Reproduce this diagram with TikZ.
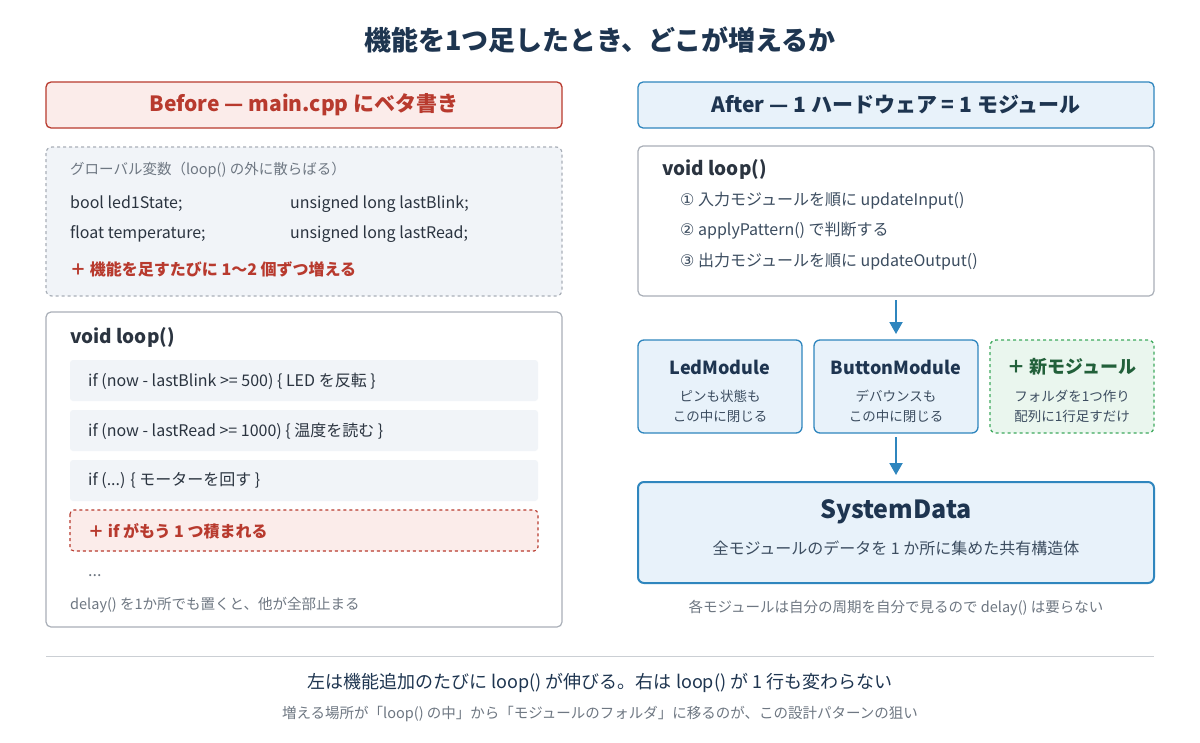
\documentclass[tikz,border=0pt]{standalone}
\usepackage{fontspec}
\usetikzlibrary{arrows.meta}
\setmainfont{Noto Sans CJK JP}
\newfontfamily\sym{DejaVu Sans}
\begin{document}
\begin{tikzpicture}[x=1pt,y=-1pt,
 every node/.style={inner sep=0pt,font=\fontsize{16}{18}\selectfont,text=txt},
 box/.style={draw=bord,line width=1.2pt,rounded corners=5pt,fill=white},
 code/.style={fill=codebg,rounded corners=3pt},
 mod/.style={draw=blueb,line width=1.3pt,rounded corners=6pt,fill=bluebg},
 sm/.style={font=\fontsize{13.5}{16}\selectfont,text=subt},
 arr/.style={draw=blueb,line width=2pt,-{Triangle[length=12pt,width=13pt]}}]
\definecolor{txt}{HTML}{2B3440}
\definecolor{navy}{HTML}{1E3550}
\definecolor{bord}{HTML}{A9AFB8}
\definecolor{codebg}{HTML}{F1F4F8}
\definecolor{redt}{HTML}{B83A2E}
\definecolor{redbg}{HTML}{FBECEA}
\definecolor{blueb}{HTML}{2F86BE}
\definecolor{bluebg}{HTML}{E8F2FA}
\definecolor{subt}{HTML}{3C4D60}
\definecolor{gray1}{HTML}{6E7782}
\definecolor{greenb}{HTML}{3FAA5E}
\definecolor{greenbg}{HTML}{EAF6EE}
\definecolor{greent}{HTML}{22603A}
\fill[white] (0,0) rectangle (1200,742);
\node[font=\fontsize{27}{30}\selectfont\bfseries,text=navy] (title) at (600,40) {機能を1つ足したとき、どこが増えるか};
% left
\draw[draw=redt,fill=redbg,line width=1.3pt,rounded corners=5pt] (46,82) rectangle (562,128);
\node[font=\fontsize{21}{24}\selectfont\bfseries,text=redt] (lh) at (304,105) {Before — main.cpp にベタ書き};
\draw[draw=bord,fill=codebg,line width=1.2pt,dashed,rounded corners=6pt] (46,147) rectangle (562,296);
\node[anchor=west,sm,text=gray1,font=\fontsize{14.5}{16}\selectfont] (g0) at (70,170) {グローバル変数（loop() の外に散らばる）};
\node[anchor=west] (g1) at (70,204) {bool led1State;};
\node[anchor=west] (g2) at (290,204) {unsigned long lastBlink;};
\node[anchor=west] (g3) at (70,234) {float temperature;};
\node[anchor=west] (g4) at (290,234) {unsigned long lastRead;};
\node[anchor=west,text=redt,font=\fontsize{16}{18}\selectfont\bfseries] (g5) at (70,269) {＋ 機能を足すたびに 1〜2 個ずつ増える};
\draw[box] (46,312) rectangle (562,627);
\node[anchor=west,font=\fontsize{19}{22}\selectfont\bfseries] (ll) at (70,337) {void loop()};
\fill[code] (70,360) rectangle (538,401);
\fill[code] (70,410) rectangle (538,451);
\fill[code] (70,460) rectangle (538,501);
\draw[draw=redt,fill=redbg,dashed,line width=1.1pt,rounded corners=4pt] (70,510) rectangle (538,551);
\node[anchor=west] (c1) at (88,381) {if (now - lastBlink >= 500) \{ LED を反転 \}};
\node[anchor=west] (c2) at (88,431) {if (now - lastRead >= 1000) \{ 温度を読む \}};
\node[anchor=west] (c3) at (88,481) {if (...) \{ モーターを回す \}};
\node[anchor=west,text=redt,font=\fontsize{16}{18}\selectfont\bfseries] (c4) at (88,531) {＋ if がもう 1 つ積まれる};
\node[anchor=west,text=gray1] (c5) at (88,576) {...};
\node[anchor=west,text=gray1,font=\fontsize{14.5}{16}\selectfont] (c6) at (70,605) {delay() を1か所でも置くと、他が全部止まる};
% right
\draw[draw=blueb,fill=bluebg,line width=1.3pt,rounded corners=5pt] (638,82) rectangle (1154,128);
\node[font=\fontsize{21}{24}\selectfont\bfseries,text=navy] (rh) at (896,105) {After — 1 ハードウェア = 1 モジュール};
\draw[box] (638,146) rectangle (1154,296);
\node[anchor=west,font=\fontsize{19}{22}\selectfont\bfseries] (rl) at (662,169) {void loop()};
\node[anchor=west,text=subt] (r1) at (680,201) {{\sym ①} 入力モジュールを順に updateInput()};
\node[anchor=west,text=subt] (r2) at (680,231) {{\sym ②} applyPattern() で判断する};
\node[anchor=west,text=subt] (r3) at (680,262) {{\sym ③} 出力モジュールを順に updateOutput()};
\coordinate (a1) at (896,300);
\coordinate (a2) at (896,334);
\draw[arr] (a1) -- (a2);
\draw[mod] (638,340) rectangle (802,433);
\draw[mod] (814,340) rectangle (978,433);
\draw[draw=greenb,fill=greenbg,dashed,line width=1.3pt,rounded corners=6pt] (990,340) rectangle (1154,433);
\node[font=\fontsize{18}{20}\selectfont\bfseries,text=navy] (m1) at (720,367) {LedModule};
\node[sm,align=center,font=\fontsize{13.5}{20}\selectfont] (m1s) at (720,406) {ピンも状態も\\この中に閉じる};
\node[font=\fontsize{18}{20}\selectfont\bfseries,text=navy] (m2) at (896,367) {ButtonModule};
\node[sm,align=center,font=\fontsize{13.5}{20}\selectfont] (m2s) at (896,406) {デバウンスも\\この中に閉じる};
\node[font=\fontsize{18}{20}\selectfont\bfseries,text=greent] (m3) at (1072,367) {＋ 新モジュール};
\node[sm,align=center,font=\fontsize{13.5}{20}\selectfont] (m3s) at (1072,406) {フォルダを1つ作り\\配列に1行足すだけ};
\coordinate (b1) at (896,437);
\coordinate (b2) at (896,475);
\draw[arr] (b1) -- (b2);
\draw[draw=blueb,fill=bluebg,line width=2pt,rounded corners=6pt] (638,482) rectangle (1154,583);
\node[font=\fontsize{25}{28}\selectfont\bfseries,text=navy] (sd) at (896,512) {SystemData};
\node[text=subt] (sds) at (896,548) {全モジュールのデータを 1 か所に集めた共有構造体};
\node[text=gray1,font=\fontsize{14.5}{16}\selectfont] (note) at (896,608) {各モジュールは自分の周期を自分で見るので delay() は要らない};
\draw[draw=bord!60,line width=1pt] (46,656) -- (1154,656);
\node[font=\fontsize{18}{20}\selectfont,text=navy] (b1t) at (600,683) {左は機能追加のたびに loop() が伸びる。右は loop() が 1 行も変わらない};
\node[text=gray1,font=\fontsize{14.5}{16}\selectfont] (b2t) at (600,714) {増える場所が「loop() の中」から「モジュールのフォルダ」に移るのが、この設計パターンの狙い};
\end{tikzpicture}
\end{document}
